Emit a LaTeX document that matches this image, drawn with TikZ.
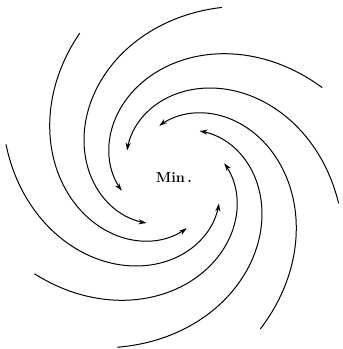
\documentclass[tikz,border=0pt]{standalone}
\usetikzlibrary{arrows.meta}
\begin{document}
\begin{tikzpicture}[x=1pt,y=1pt,
  arm/.style={line width=1pt, line cap=round, -{Stealth[length=8pt,width=5pt,inset=2.5pt]}},
  lbl/.style={font=\fontsize{14.5}{16}\selectfont\bfseries, inner sep=0pt}]
\useasboundingbox (-173,-172) rectangle (170,177);
% eight spiral arms: end angle, angular span
\foreach \e/\s in {-30/161, 15/160, 60/168, 105/165, 150/159, 195/164, 240/166, 285/162}{
  \draw[arm] plot[domain={\e-\s}:\e, samples=80, smooth, variable=\t]
    ({53*exp(0.415*(\e-\t)/57.2958)*cos(\t)}, {53*exp(0.415*(\e-\t)/57.2958)*sin(\t)});
}
\node[lbl] (min) at (1,-1) {Min\,.};
\end{tikzpicture}
\end{document}
